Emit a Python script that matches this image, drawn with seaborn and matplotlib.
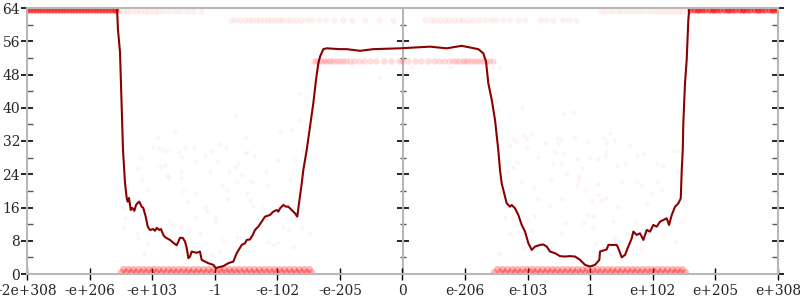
import matplotlib
matplotlib.use("Agg")
import matplotlib.pyplot as plt
import pandas as pd
import seaborn as sns

# ---------------- data ----------------
tick_labels = ["-2e+308", "-e+206", "-e+103", "-1", "-e-102", "-e-205", "0",
               "e-206", "e-103", "1", "e+102", "e+205", "e+308"]

# average error (bits) line
line_x = [0.000, 1.438, 1.454, 1.486, 1.502, 1.518, 1.534, 1.566, 1.593, 1.609,
          1.630, 1.657, 1.683, 1.715, 1.742, 1.769, 1.794, 1.833, 1.858, 1.897,
          1.929, 1.965, 2.018, 2.045, 2.073, 2.114, 2.141, 2.178, 2.205, 2.258,
          2.285, 2.338, 2.392, 2.445, 2.488, 2.525, 2.552, 2.578, 2.605, 2.632,
          2.712, 2.764, 2.791, 2.844, 2.897, 2.977, 3.020, 3.057, 3.137, 3.217,
          3.297, 3.351, 3.431, 3.484, 3.511, 3.563, 3.607, 3.643, 3.696, 3.750,
          3.803, 3.883, 3.936, 3.990, 4.016, 4.043, 4.096, 4.139, 4.175, 4.230,
          4.283, 4.319, 4.346, 4.390, 4.415, 4.469, 4.522, 4.575, 4.618, 4.655,
          4.682, 4.735, 4.789, 5.002, 5.109, 5.321, 5.534, 5.960, 6.440, 6.706,
          6.946, 7.079, 7.212, 7.291, 7.335, 7.371, 7.426, 7.478, 7.531, 7.558,
          7.585, 7.638, 7.665, 7.718, 7.745, 7.798, 7.851, 7.905, 7.958, 8.011,
          8.065, 8.118, 8.198, 8.250, 8.305, 8.357, 8.437, 8.517, 8.597, 8.677,
          8.757, 8.837, 8.917, 8.997, 9.076, 9.145, 9.156, 9.263, 9.289, 9.423,
          9.448, 9.503, 9.556, 9.608, 9.663, 9.688, 9.743, 9.795, 9.848, 9.903,
          9.955, 10.008, 10.062, 10.115, 10.168, 10.222, 10.259, 10.302, 10.355, 10.408,
          10.446, 10.462, 10.478, 10.487, 10.514, 10.541, 10.567, 10.583, 12.000]
line_bits = [64.0, 64.0, 58.7, 53.4, 45.2, 37.8, 29.8, 21.9, 18.3, 17.4,
             18.3, 15.4, 15.9, 15.2, 16.6, 17.1, 17.4, 16.2, 15.9, 13.8,
             11.4, 10.6, 10.8, 10.4, 11.1, 10.6, 10.8, 9.4, 8.9, 8.4,
             8.2, 7.5, 6.9, 8.7, 8.7, 7.8, 6.3, 3.8, 4.2, 5.4,
             5.1, 5.4, 3.4, 3.0, 2.6, 2.2, 1.4, 1.6, 1.9, 2.6,
             3.0, 5.0, 7.0, 7.4, 8.2, 8.3, 9.4, 10.6, 11.4, 12.6,
             13.8, 14.2, 15.0, 15.4, 15.0, 15.8, 16.6, 16.2, 16.2, 15.4,
             14.6, 13.8, 17.0, 21.8, 25.0, 29.8, 35.4, 41.1, 46.7, 50.7,
             52.3, 54.1, 54.3, 54.1, 54.1, 53.7, 54.1, 54.3, 54.7, 54.3,
             54.9, 54.5, 54.1, 53.1, 51.1, 45.9, 41.9, 37.1, 29.8, 25.0,
             21.8, 18.6, 17.0, 16.2, 16.6, 15.8, 14.2, 11.8, 10.2, 7.4,
             5.8, 6.6, 7.0, 7.1, 6.6, 5.4, 5.0, 4.3, 4.2, 4.3,
             4.2, 3.4, 2.2, 1.8, 2.2, 3.4, 5.4, 5.9, 7.0, 7.0,
             6.2, 4.0, 4.6, 6.6, 8.6, 10.2, 9.4, 9.8, 8.2, 10.6,
             10.2, 11.8, 11.4, 12.6, 13.0, 13.4, 11.8, 14.2, 16.2, 17.0,
             18.2, 25.0, 29.8, 36.3, 45.9, 51.5, 61.1, 64.0, 64.0]

# sparse individual sample errors
scatter_x = [3.340, 2.365, 2.019, 2.115, 2.179, 2.232, 2.434, 2.525, 2.669, 3.073,
             3.180, 3.500, 3.484, 3.537, 3.633, 2.844, 2.951, 1.816, 2.471, 2.685,
             3.031, 3.377, 3.324, 2.205, 2.125, 1.779, 2.461, 2.924, 3.233, 3.430,
             3.814, 4.016, 4.283, 2.232, 2.274, 2.461, 1.832, 3.350, 3.563, 3.617,
             4.203, 3.846, 3.137, 3.191, 1.939, 2.498, 2.685, 3.510, 4.309, 1.593,
             3.217, 3.563, 2.578, 3.617, 2.844, 2.882, 3.777, 2.685, 3.004, 3.004,
             2.274, 2.338, 2.461, 2.578, 1.566, 1.529, 1.752, 1.779, 2.764, 3.137,
             3.350, 3.857, 3.936, 3.990, 4.096, 4.176, 4.389, 4.522, 4.256, 1.928,
             1.870, 3.073, 2.951, 4.363, 4.229, 4.043, 4.416, 1.539, 2.099,
             4.575, 4.549, 4.362, 5.641, 5.188,
             6.146, 6.759, 7.452, 7.558, 7.452, 7.478, 7.505,
             7.478, 7.904, 8.559, 8.730, 7.931, 8.064, 7.771, 7.813, 7.984, 8.277,
             8.463, 8.527, 8.490, 8.756, 8.969, 9.220, 9.316, 9.380, 9.262, 9.635,
             7.718, 7.995, 8.437, 8.581, 9.252, 9.236, 9.742, 9.859, 10.328, 10.408,
             8.170, 8.794, 8.996, 9.129, 7.824, 7.771, 8.410, 8.527, 9.422, 9.555,
             10.062, 10.168, 7.664, 8.623, 8.863, 8.826, 8.810, 8.367, 7.888, 8.783,
             9.129, 9.502, 9.742, 9.806, 10.062, 10.381, 8.101, 8.916, 9.129, 9.252,
             9.167, 9.023, 8.543, 8.170, 9.982, 10.141, 8.357, 9.438, 9.902, 7.558,
             7.638, 7.744, 7.984, 8.101, 8.943, 9.049, 8.597, 8.890, 9.049, 9.369,
             9.715, 10.461, 8.048, 8.527, 7.718, 9.396, 9.593, 10.354, 7.931, 9.092,
             9.806, 7.558, 7.531]
scatter_bits = [38.26, 34.09, 30.64, 30.24, 29.84, 29.68, 29.44, 30.40, 30.40, 31.28,
                30.40, 32.65, 29.04, 29.44, 28.40, 28.64, 29.60, 27.83, 28.24, 27.19,
                27.27, 26.63, 25.83, 26.23, 25.83, 25.43, 24.87, 24.63, 24.63, 23.83,
                24.63, 27.43, 27.43, 23.83, 23.26, 23.02, 22.62, 22.22, 22.38, 22.22,
                22.62, 21.42, 21.26, 20.22, 20.22, 19.98, 19.41, 19.41, 19.41, 17.81,
                17.97, 17.81, 17.25, 16.37, 16.21, 15.16, 15.81, 13.80, 13.40, 12.60,
                12.84, 11.80, 11.15, 10.59, 13.40, 10.99, 9.79, 8.59, 9.79, 8.19,
                8.99, 7.79, 6.98, 7.38, 11.39, 10.75, 11.00, 9.95, 6.58, 7.22,
                4.82, 5.62, 4.58, 37.06, 34.65, 34.25, 29.84, 16.21, 32.65,
                48.29, 47.08, 43.47, 47.49, 50.29,
                49.89, 49.89, 49.49, 49.49, 46.68, 43.47, 39.46,
                41.47, 39.87, 38.50, 39.06, 33.21, 33.61, 32.41, 32.09, 32.65, 31.44,
                32.81, 32.41, 31.60, 32.81, 31.85, 32.81, 33.85, 32.25, 31.44, 31.04,
                30.80, 30.48, 29.44, 29.04, 29.44, 28.40, 28.64, 28.88, 29.68, 29.84,
                28.24, 27.59, 27.83, 27.59, 27.03, 25.83, 26.79, 26.63, 25.99, 26.47,
                26.79, 25.99, 24.63, 24.23, 25.43, 23.58, 22.62, 22.62, 22.22, 21.42,
                21.66, 22.22, 22.22, 21.42, 22.22, 24.63, 20.62, 20.22, 19.01, 18.21,
                17.81, 17.81, 17.97, 17.97, 19.57, 20.22, 16.37, 16.21, 17.01, 19.41,
                13.64, 13.64, 13.40, 13.96, 14.20, 13.96, 12.20, 12.36, 11.39, 12.84,
                12.60, 12.60, 10.43, 9.95, 9.63, 8.99, 9.95, 7.79, 6.58, 7.38,
                5.94, 4.82, 5.14]

# dense bands of samples (x positions, and the band's error value)
band64_left_x = [0.00, 0.05, 0.10, 0.14, 0.19, 0.24, 0.29, 0.34, 0.38, 0.43, 0.48,
                 0.53, 0.58, 0.62, 0.67, 0.72, 0.77, 0.82, 0.86, 0.91, 0.96, 1.01,
                 1.06, 1.10, 1.15, 1.20, 1.25, 1.30, 1.34, 1.39, 1.43]
band64_right_x = [10.60, 10.65, 10.70, 10.74, 10.79, 10.84, 10.89, 10.94, 10.98, 11.03,
                  11.08, 11.13, 11.18, 11.22, 11.27, 11.32, 11.37, 11.42, 11.46, 11.51,
                  11.56, 11.61, 11.66, 11.70, 11.75, 11.80, 11.85, 11.90, 11.94, 11.99]
band64_bits = 63.6

band63_left_x = [1.47, 1.53, 1.60, 1.66, 1.74, 1.81, 1.88, 1.95, 2.03, 2.10, 2.18,
                 2.27, 2.36, 2.45, 2.55, 2.66, 2.78]
band63_right_x = [9.16, 9.24, 9.33, 9.42, 9.50, 9.58, 9.67, 9.75, 9.83, 9.92, 10.00,
                  10.08, 10.16, 10.24, 10.32, 10.40, 10.47, 10.54]
band63_bits = 63.3

band61_left_x = [3.26, 3.33, 3.40, 3.48, 3.55, 3.60, 3.66, 3.72, 3.78, 3.85, 3.90,
                 3.96, 4.02, 4.08, 4.15, 4.22, 4.30, 4.38, 4.47, 4.56, 4.66, 4.78,
                 4.90, 5.05, 5.20, 5.40, 5.62, 5.85]
band61_right_x = [6.36, 6.45, 6.52, 6.60, 6.68, 6.75, 6.82, 6.90, 6.97, 7.05, 7.13,
                  7.22, 7.32, 7.42, 7.50, 7.60, 7.72, 7.85, 7.95, 8.20, 8.30, 8.40,
                  8.56, 8.66, 8.78]
band61_bits = 61.2

band51_left_x = [4.58, 4.62, 4.66, 4.70, 4.74, 4.78, 4.82, 4.86, 4.90, 4.95, 5.00,
                 5.05, 5.10, 5.16, 5.22, 5.30, 5.38, 5.48, 5.58, 5.70, 5.82, 5.94]
band51_right_x = [6.00, 6.08, 6.20, 6.30, 6.40, 6.50, 6.58, 6.66, 6.74, 6.80, 6.86,
                  6.91, 6.96, 7.00, 7.05, 7.10, 7.14, 7.19, 7.24, 7.29, 7.34, 7.39,
                  7.44]
band51_bits = 51.3

bottom_lo_x = [1.50, 1.58, 1.66, 1.74, 1.82, 1.90, 1.98, 2.06, 2.14, 2.22, 2.30,
               2.38, 2.46, 2.54, 2.62, 2.70, 2.78, 2.86, 2.94, 3.02, 3.10, 3.18,
               3.26, 3.34, 3.42, 3.50, 3.58, 3.66, 3.74, 3.82, 3.90, 3.98, 4.06,
               4.14, 4.22, 4.30, 4.38, 4.46, 4.53,
               7.47, 7.55, 7.63, 7.71, 7.79, 7.87, 7.95, 8.03, 8.11, 8.19, 8.27,
               8.35, 8.43, 8.51, 8.59, 8.67, 8.75, 8.83, 8.91, 8.99, 9.07, 9.15,
               9.23, 9.31, 9.39, 9.47, 9.55, 9.63, 9.71, 9.79, 9.87, 9.95, 10.03,
               10.11, 10.19, 10.27, 10.35, 10.43, 10.51]
bottom_lo_bits = 0.5
bottom_hi_x = [1.54, 1.62, 1.70, 1.78, 1.86, 1.94, 2.02, 2.10, 2.18, 2.26, 2.34,
               2.42, 2.50, 2.58, 2.66, 2.74, 2.82, 2.90, 2.98, 3.06, 3.14, 3.22,
               3.30, 3.38, 3.46, 3.54, 3.62, 3.70, 3.78, 3.86, 3.94, 4.02, 4.10,
               4.18, 4.26, 4.34, 4.42, 4.50,
               7.51, 7.59, 7.67, 7.75, 7.83, 7.91, 7.99, 8.07, 8.15, 8.23, 8.31,
               8.39, 8.47, 8.55, 8.63, 8.71, 8.79, 8.87, 8.95, 9.03, 9.11, 9.19,
               9.27, 9.35, 9.43, 9.51, 9.59, 9.67, 9.75, 9.83, 9.91, 9.99, 10.07,
               10.15, 10.23, 10.31, 10.39, 10.47]
bottom_hi_bits = 1.1


def band(xs, bits):
    return pd.DataFrame({"x": xs, "bits": [bits] * len(xs)})


line_df = pd.DataFrame({"x": line_x, "bits": line_bits})
scatter_df = pd.DataFrame({"x": scatter_x, "bits": scatter_bits})
heavy_df = pd.concat([band(band64_left_x, band64_bits),
                      band(band64_right_x, band64_bits)])
bottom_df = pd.concat([band(bottom_lo_x, bottom_lo_bits),
                       band(bottom_hi_x, bottom_hi_bits)])
faint_df = pd.concat([band(band63_left_x, band63_bits),
                      band(band63_right_x, band63_bits),
                      band(band61_left_x, band61_bits),
                      band(band61_right_x, band61_bits)])
mid_df = pd.concat([band(band51_left_x, band51_bits),
                    band(band51_right_x, band51_bits)])

# ---------------- plot ----------------
sns.set_style("white")
plt.rcParams["font.family"] = ["DejaVu Serif"]

fig, ax = plt.subplots(figsize=(8, 3), dpi=100)
fig.subplots_adjust(left=27 / 800, right=778 / 800, bottom=26 / 300, top=292 / 300)

pt = dict(color="red", linewidth=0, ax=ax, legend=False)
sns.scatterplot(data=scatter_df, x="x", y="bits", alpha=0.045, s=10, **pt)
sns.scatterplot(data=faint_df, x="x", y="bits", alpha=0.06, s=22, **pt)
sns.scatterplot(data=mid_df, x="x", y="bits", alpha=0.13, s=22, **pt)
sns.scatterplot(data=bottom_df, x="x", y="bits", alpha=0.28, s=26, **pt)
sns.scatterplot(data=heavy_df, x="x", y="bits", alpha=0.55, s=20, **pt)

sns.lineplot(data=line_df, x="x", y="bits", sort=False, estimator=None,
             color="#8b0000", linewidth=1.5, ax=ax)

ax.set_xlim(0, 12)
ax.set_ylim(0, 64)
ax.set_xlabel("")
ax.set_ylabel("")

gray = "#b8b8b8"
for side in ["left", "right", "top", "bottom"]:
    ax.spines[side].set_visible(True)
    ax.spines[side].set_color(gray)
    ax.spines[side].set_linewidth(1.5)

ax.set_xticks(range(len(tick_labels)))
ax.set_xticklabels(tick_labels)
ax.set_yticks(range(0, 65, 8))
ax.set_yticks(range(4, 64, 8), minor=True)

ax.tick_params(axis="x", which="major", direction="inout", length=8, width=1,
               color="black", labelsize=10, pad=3, bottom=True, top=False)
ax.tick_params(axis="y", which="major", direction="inout", length=8, width=1.2,
               color="black", labelsize=10, pad=1, left=True, right=True)
ax.tick_params(axis="y", which="minor", direction="in", length=4, width=1,
               color="#555555", left=True, right=True)

mid = ax.secondary_yaxis(0.5)
mid.set_yticks(range(0, 65, 8))
mid.set_yticks(range(4, 64, 8), minor=True)
mid.set_yticklabels([])
mid.tick_params(axis="y", which="major", direction="inout", length=8, width=1.2,
                color="black")
mid.tick_params(axis="y", which="minor", direction="inout", length=4, width=1,
                color="#555555")
for s in mid.spines.values():
    s.set_color(gray)
    s.set_linewidth(1.5)

fig.savefig("out.png", dpi=100)
